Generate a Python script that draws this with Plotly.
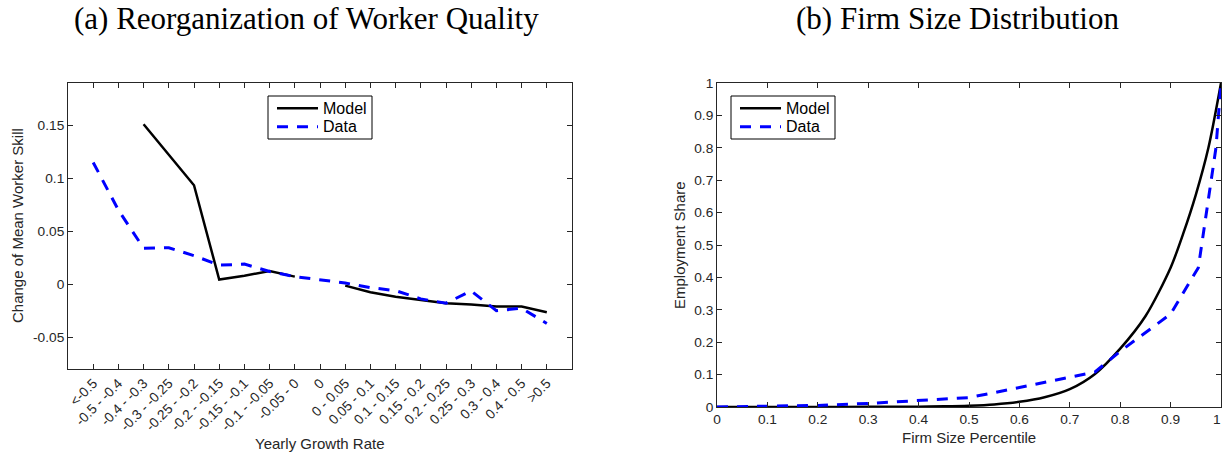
import plotly.graph_objects as go

# ---- panel (a): change of mean worker skill by yearly growth-rate bin ----
growth_bins = ["<-0.5", "-0.5 - -0.4", "-0.4 - -0.3", "-0.3 - -0.25", "-0.25 - -0.2",
               "-0.2 - -0.15", "-0.15 - -0.1", "-0.1 - -0.05", "-0.05 - 0", "0",
               "0 - 0.05", "0.05 - 0.1", "0.1 - 0.15", "0.15 - 0.2", "0.2 - 0.25",
               "0.25 - 0.3", "0.3 - 0.4", "0.4 - 0.5", ">0.5"]
skill_model = [None, None, 0.151, 0.122, 0.0935, 0.0045, 0.008, 0.0125, 0.0072, None,
               -0.0013, -0.0075, -0.0117, -0.0148, -0.0179, -0.0192, -0.0211, -0.0211, -0.0264]
skill_data = [0.115, 0.070, 0.034, 0.0345, 0.027, 0.018, 0.019, 0.012, 0.0072, 0.004,
              0.0012, -0.0032, -0.0060, -0.0138, -0.0179, -0.0063, -0.025, -0.0226, -0.037]
skill_ticks = [-0.05, 0, 0.05, 0.1, 0.15]
skill_ticktext = ["-0.05", "0", "0.05", "0.1", "0.15"]

# ---- panel (b): cumulative employment share by firm-size percentile ----
pct_model = [0, 0.1, 0.2, 0.3, 0.4, 0.45, 0.5, 0.55, 0.6, 0.65, 0.7, 0.75, 0.8,
             0.85, 0.9, 0.925, 0.95, 0.975, 1.0]
share_model = [0, 0, 0, 0.0005, 0.001, 0.002, 0.004, 0.008, 0.016, 0.03, 0.055, 0.102, 0.18,
               0.28, 0.43, 0.535, 0.655, 0.8, 1.0]
pct_data = [0, 0.1, 0.2, 0.3, 0.4, 0.5, 0.6, 0.7, 0.75, 0.8, 0.9, 0.955, 0.99, 1.0]
share_data = [0, 0.002, 0.005, 0.011, 0.019, 0.029, 0.06, 0.093, 0.108, 0.172, 0.287, 0.43, 0.80, 1.0]
pct_ticks = [0, 0.1, 0.2, 0.3, 0.4, 0.5, 0.6, 0.7, 0.8, 0.9, 1]
pct_ticktext = ["0", "0.1", "0.2", "0.3", "0.4", "0.5", "0.6", "0.7", "0.8", "0.9", "1"]

series_names = ["Model", "Data"]

W, H = 1223, 455
AX = "#262626"
SANS = "Liberation Sans, Arial, sans-serif"
SERIF = "Liberation Serif, Times New Roman, serif"
BLUE = "#0000ff"
DASH = "11px,9px"
MODEL_LINE = dict(color="black", width=2.5)
DATA_LINE = dict(color=BLUE, width=3, dash=DASH)
TICK_FONT = dict(family=SANS, size=13.7, color=AX)


def px_x(p):
    return p / W


def px_y(p):
    return 1 - p / H


fig = go.Figure()

fig.add_trace(go.Scatter(x=growth_bins, y=skill_model, mode="lines", name=series_names[0],
                         line=MODEL_LINE, connectgaps=False, xaxis="x", yaxis="y"))
fig.add_trace(go.Scatter(x=growth_bins, y=skill_data, mode="lines", name=series_names[1],
                         line=DATA_LINE, xaxis="x", yaxis="y"))
fig.add_trace(go.Scatter(x=pct_model, y=share_model, mode="lines", name=series_names[0],
                         line=dict(MODEL_LINE, shape="spline", smoothing=0.8),
                         xaxis="x2", yaxis="y2"))
fig.add_trace(go.Scatter(x=pct_data, y=share_data, mode="lines", name=series_names[1],
                         line=DATA_LINE, xaxis="x2", yaxis="y2"))

axis_common = dict(showline=True, linecolor=AX, linewidth=1, mirror="ticks",
                   ticks="inside", ticklen=5, tickcolor=AX, tickwidth=1,
                   showgrid=False, zeroline=False, automargin=False,
                   ticklabeloverflow="allow", tickfont=TICK_FONT)

# the last percentile label sits on the right page edge; it is placed separately
# (right-aligned) so it stays inside the page
pct_xlabels = pct_ticktext[:-1] + [""]

fig.update_layout(
    template="none",
    width=W, height=H,
    margin=dict(l=0, r=0, t=0, b=0, autoexpand=False),
    paper_bgcolor="white", plot_bgcolor="white",
    showlegend=False,
    xaxis=dict(axis_common, domain=[px_x(68), px_x(572)], type="category",
               categoryorder="array", categoryarray=growth_bins,
               range=[-1, len(growth_bins)], tickangle=-45, anchor="y"),
    yaxis=dict(axis_common, domain=[px_y(369), px_y(83)], range=[-0.08, 0.19],
               tickvals=skill_ticks, ticktext=skill_ticktext, anchor="x"),
    xaxis2=dict(axis_common, domain=[px_x(717), px_x(1221)], range=[0, 1],
                tickvals=pct_ticks, ticktext=pct_xlabels, anchor="y2"),
    yaxis2=dict(axis_common, domain=[px_y(407), px_y(83)], range=[0, 1],
                tickvals=pct_ticks, ticktext=pct_ticktext, anchor="x2"),
)

annotations = [
    dict(text="(a) Reorganization of Worker Quality", x=px_x(306), y=px_y(19),
         font=dict(family=SERIF, size=31, color="black")),
    dict(text="(b) Firm Size Distribution", x=px_x(957), y=px_y(19),
         font=dict(family=SERIF, size=31, color="black")),
    dict(text="Yearly Growth Rate", x=px_x(320), y=px_y(443),
         font=dict(family=SANS, size=15, color=AX)),
    dict(text="Firm Size Percentile", x=px_x(969), y=px_y(437),
         font=dict(family=SANS, size=15, color=AX)),
    dict(text="Change of Mean Worker Skill", x=px_x(17), y=px_y(226), textangle=-90,
         font=dict(family=SANS, size=15, color=AX)),
    dict(text="Employment Share", x=px_x(679), y=px_y(245), textangle=-90,
         font=dict(family=SANS, size=15, color=AX)),
]
for a in annotations:
    a.update(xanchor="center", yanchor="middle")

annotations.append(dict(text=pct_ticktext[-1], x=1.0, y=px_y(419), xanchor="right",
                        yanchor="middle", font=TICK_FONT))

# Boxed legends drawn in paper space: (left edge, top edge) of each box in pixels
shapes = []
for bx, by in [(268, 96), (731, 96)]:
    shapes.append(dict(type="rect", xref="paper", yref="paper",
                       x0=px_x(bx), x1=px_x(bx + 104), y0=px_y(by + 43), y1=px_y(by),
                       line=dict(color="black", width=1), fillcolor="white", layer="above"))
    for row, (name, style) in enumerate(zip(series_names, [MODEL_LINE, DATA_LINE])):
        yy = by + 12.3 + row * 18.5
        shapes.append(dict(type="line", xref="paper", yref="paper",
                           x0=px_x(bx + 9), x1=px_x(bx + 50), y0=px_y(yy), y1=px_y(yy),
                           line=style, layer="above"))
        annotations.append(dict(text=name, x=px_x(bx + 53), y=px_y(yy), xanchor="left",
                                yanchor="middle",
                                font=dict(family=SANS, size=16, color="black")))

for a in annotations:
    a.update(xref="paper", yref="paper", showarrow=False)
fig.update_layout(annotations=annotations, shapes=shapes)

fig.write_html("out.html")
